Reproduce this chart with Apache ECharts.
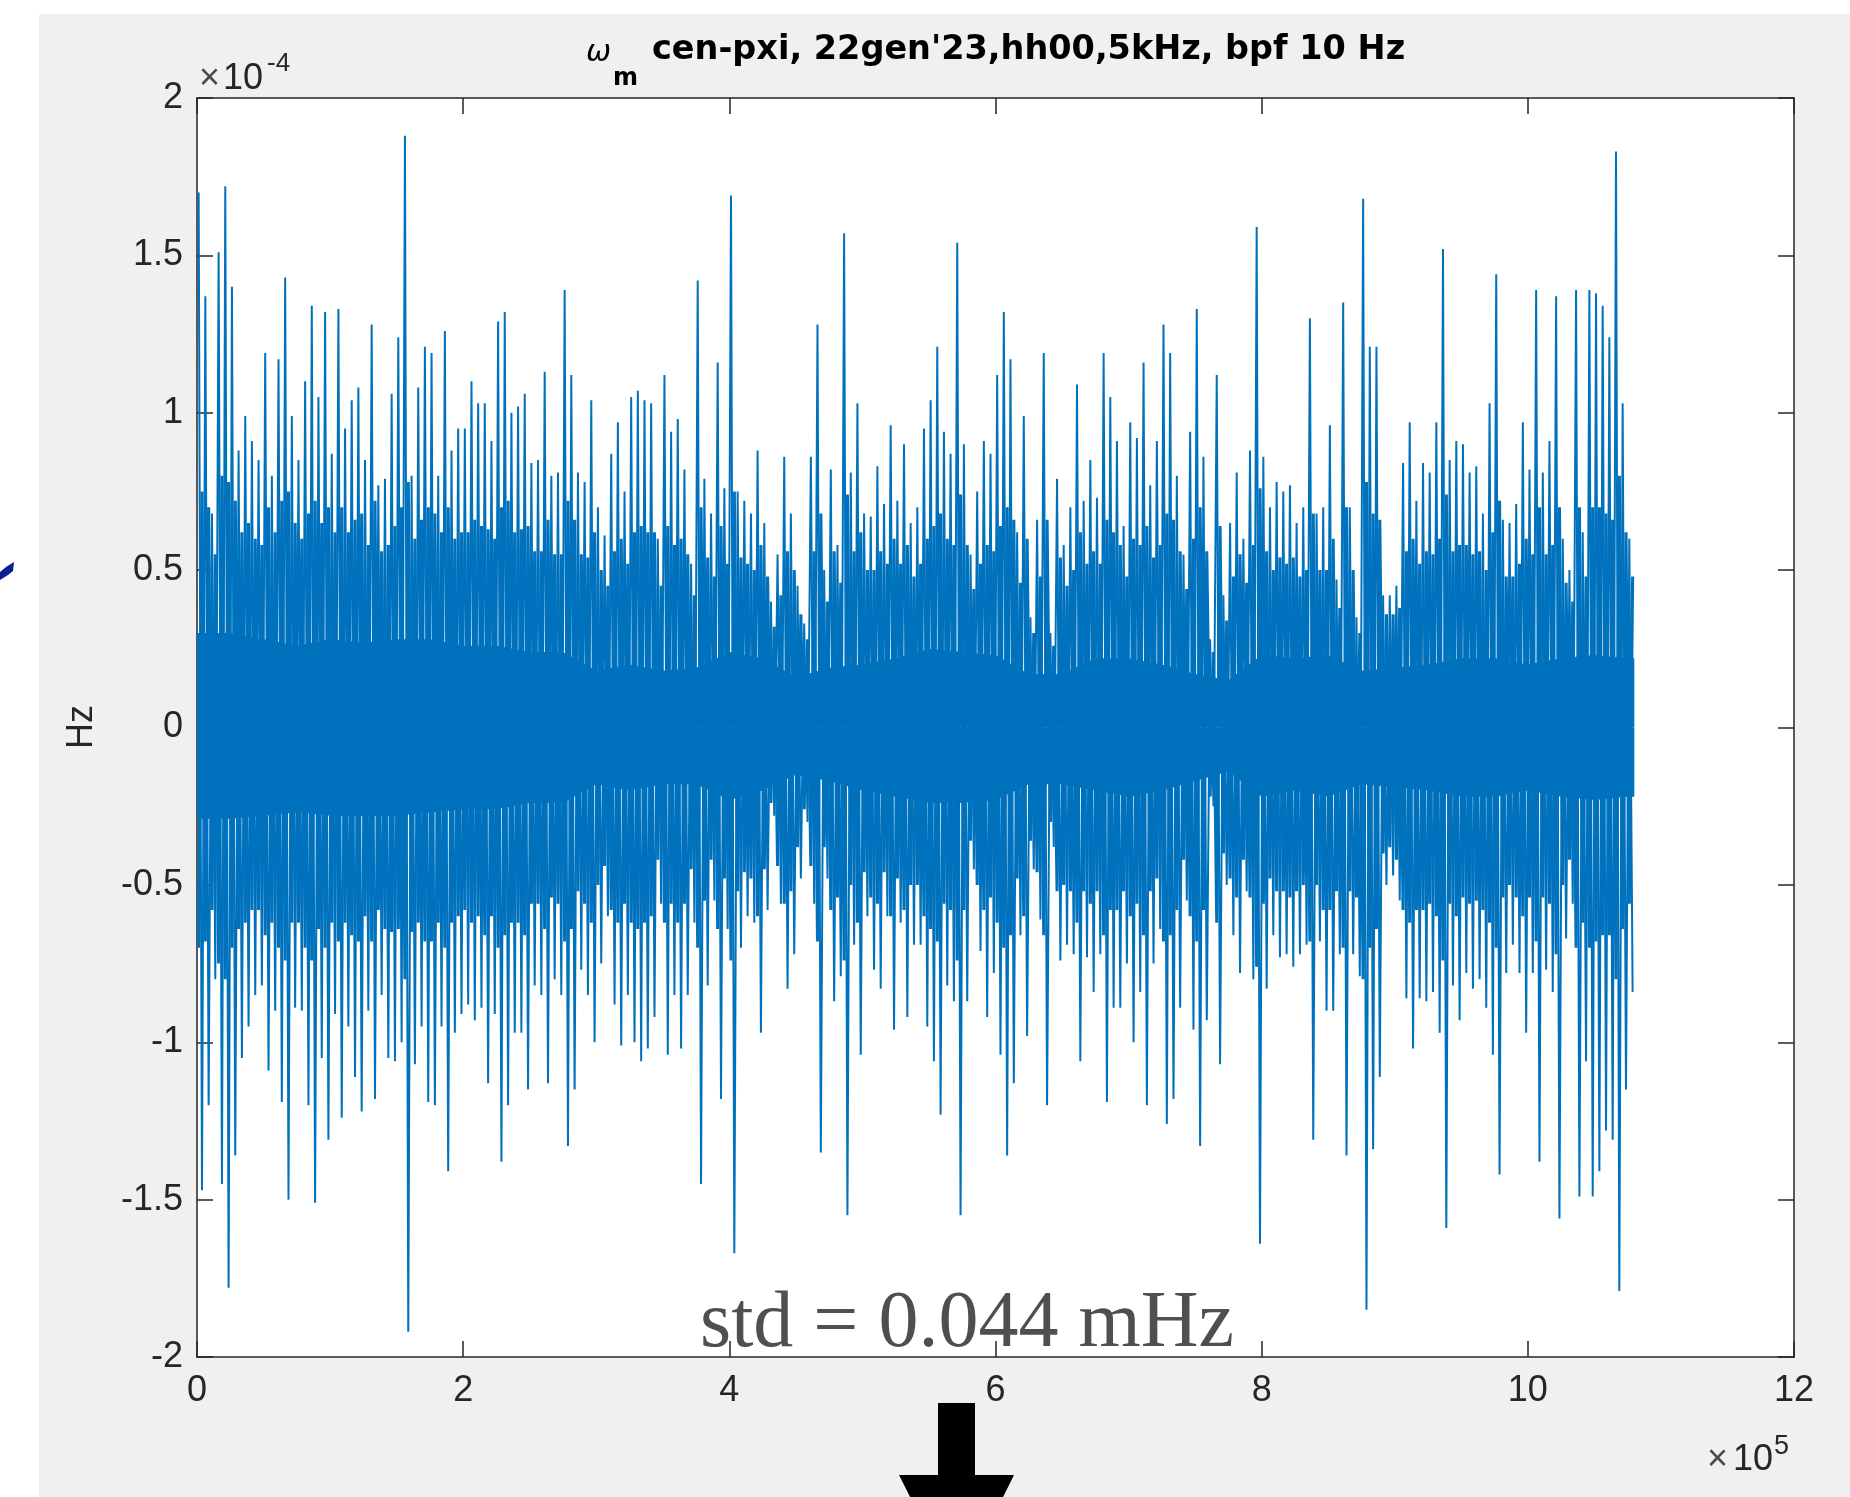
<!DOCTYPE html>
<html>
<head>
<meta charset="utf-8">
<script src="https://cdn.jsdelivr.net/npm/echarts@6/dist/echarts.min.js"></script>
<style>
html,body{margin:0;padding:0;background:#ffffff;}
#chart{width:1850px;height:1497px;}
</style>
</head>
<body>
<div id="chart"></div>
<script>
// ---------------- data (x in units of 1e5 samples, y in units of 1e-4 Hz) ----------------
const binWidth = 0.05;   // width of one envelope bin on the x axis (×10^5)

// per-bin maximum of the signal, bins 0..215
const upperPeaks = [
  1.70,1.37,0.68,1.51,1.72,1.40,0.88,0.99,0.91,0.85,1.19,0.80,1.17,1.43,0.99,0.85,1.10,1.34,1.05,1.32,
  0.87,1.33,0.95,1.04,1.08,0.85,1.28,0.77,0.79,1.06,1.24,1.88,0.80,1.08,1.21,1.19,
  0.80,1.26,0.88,0.95,0.95,1.10,1.03,1.03,0.91,1.29,1.32,1.00,1.02,1.06,0.84,0.85,1.13,0.80,0.81,1.39,
  1.12,0.81,0.78,1.04,0.70,0.61,0.87,0.97,0.75,1.05,1.07,1.04,1.03,0.60,1.12,0.94,0.98,
  0.82,0.52,1.42,0.79,0.68,1.16,0.76,1.69,0.75,0.72,0.68,0.88,0.65,0.40,0.55,0.86,0.68,0.45,0.33,0.86,
  1.28,0.50,0.82,0.58,1.57,0.81,1.03,0.68,0.67,0.83,0.71,0.96,0.72,0.90,0.65,0.70,
  0.95,1.04,1.21,0.94,0.87,1.54,0.90,0.55,0.75,0.91,0.87,1.12,1.32,1.17,0.62,0.99,0.35,0.66,1.19,0.30,
  0.79,0.58,0.70,1.09,0.72,0.85,0.73,1.19,1.05,0.91,0.64,0.97,0.92,1.16,0.77,0.91,
  1.28,1.19,0.80,0.55,0.94,1.33,0.86,0.28,1.12,0.42,0.65,0.81,0.60,0.88,1.59,0.86,0.70,0.78,0.75,0.77,
  0.65,0.70,1.30,0.68,0.70,0.96,0.47,1.35,0.70,0.35,1.68,1.21,1.21,0.42,0.42,0.45,
  0.84,0.97,0.72,0.84,0.81,0.97,1.52,0.85,0.91,0.90,0.81,0.83,0.68,1.03,1.44,0.66,0.65,0.71,0.97,0.82,
  1.39,0.81,0.91,1.37,0.60,0.50,1.39,0.62,1.39,1.38,1.34,1.24,1.83,1.03,0.60
];

// per-bin minimum of the signal, bins 0..215
const lowerPeaks = [
  -1.47,-1.20,-0.80,-1.45,-1.78,-1.36,-1.05,-0.95,-0.85,-0.82,-1.09,-0.90,-1.19,-1.50,-0.89,-0.90,-1.20,-1.51,-1.05,-1.31,
  -0.91,-1.24,-0.95,-1.11,-1.22,-0.90,-1.18,-0.85,-1.05,-1.06,-1.00,-1.92,-1.07,-0.95,-1.19,-1.20,
  -0.95,-1.41,-0.97,-0.91,-0.88,-0.93,-0.89,-1.13,-0.91,-1.38,-1.20,-0.97,-0.97,-1.15,-0.82,-0.85,-1.13,-0.80,-0.85,-1.33,
  -1.15,-0.77,-0.85,-1.00,-0.75,-0.60,-0.88,-1.01,-0.85,-1.00,-1.06,-1.02,-0.92,-0.56,-1.04,-0.85,-1.02,
  -0.85,-0.62,-1.45,-0.82,-0.55,-1.18,-0.64,-1.67,-0.70,-0.60,-0.62,-0.97,-0.58,-0.28,-0.56,-0.83,-0.72,-0.48,-0.30,-0.56,
  -1.35,-0.48,-0.87,-0.79,-1.55,-0.69,-1.04,-0.60,-0.77,-0.83,-0.60,-0.96,-0.62,-0.92,-0.69,-0.69,
  -0.95,-1.06,-1.23,-0.82,-0.87,-1.55,-0.87,-0.45,-0.71,-0.92,-0.78,-1.04,-1.36,-1.13,-0.66,-0.98,-0.45,-0.61,-1.20,-0.38,
  -0.74,-0.69,-0.72,-1.06,-0.73,-0.84,-0.72,-1.19,-0.89,-0.89,-0.75,-1.00,-0.84,-1.20,-0.75,-0.64,
  -1.26,-1.18,-0.89,-0.55,-0.96,-1.33,-0.93,-0.25,-1.07,-0.50,-0.66,-0.78,-0.52,-0.80,-1.64,-0.83,-0.66,-0.73,-0.72,-0.76,
  -0.72,-0.69,-1.31,-0.68,-0.90,-0.90,-0.72,-1.36,-0.72,-0.79,-1.85,-1.34,-1.11,-0.50,-0.47,-0.55,
  -0.86,-1.02,-0.86,-0.87,-0.84,-0.97,-1.59,-0.82,-0.93,-0.78,-0.83,-0.80,-0.89,-1.04,-1.42,-0.78,-0.69,-0.78,-0.97,-0.78,
  -1.38,-0.77,-0.84,-1.56,-0.67,-0.56,-1.49,-1.06,-1.49,-1.41,-1.28,-1.31,-1.79,-1.15,-0.84
];

// per-bin level of the dense "fuzzy" edge (secondary excursions), bins 0..215
const upperSecond = [
  0.75,0.70,0.55,0.80,0.78,0.72,0.62,0.65,0.60,0.58,0.70,0.62,0.72,0.75,0.65,0.60,0.68,0.72,0.65,0.70,
  0.62,0.70,0.62,0.66,0.68,0.58,0.72,0.56,0.58,0.64,0.70,0.78,0.60,0.66,0.70,0.68,
  0.62,0.70,0.60,0.62,0.62,0.66,0.64,0.63,0.60,0.70,0.72,0.62,0.63,0.64,0.56,0.56,0.66,0.55,0.55,0.72,
  0.66,0.55,0.54,0.62,0.50,0.45,0.56,0.60,0.52,0.62,0.64,0.62,0.62,0.45,0.64,0.58,0.60,
  0.55,0.42,0.70,0.54,0.48,0.64,0.52,0.75,0.54,0.52,0.50,0.58,0.48,0.32,0.42,0.56,0.50,0.36,0.28,0.56,
  0.68,0.40,0.56,0.46,0.74,0.56,0.62,0.50,0.50,0.56,0.52,0.60,0.52,0.58,0.48,0.52,
  0.60,0.64,0.68,0.60,0.58,0.74,0.58,0.44,0.52,0.58,0.56,0.64,0.70,0.66,0.46,0.60,0.30,0.48,0.66,0.26,
  0.54,0.45,0.50,0.62,0.52,0.56,0.52,0.66,0.62,0.58,0.48,0.60,0.58,0.64,0.54,0.58,
  0.68,0.66,0.56,0.44,0.60,0.70,0.56,0.24,0.64,0.34,0.48,0.55,0.46,0.58,0.76,0.56,0.50,0.54,0.52,0.54,
  0.48,0.50,0.68,0.50,0.50,0.60,0.38,0.70,0.50,0.30,0.78,0.68,0.66,0.36,0.36,0.38,
  0.56,0.60,0.52,0.56,0.55,0.60,0.74,0.56,0.58,0.58,0.55,0.56,0.50,0.62,0.72,0.48,0.48,0.52,0.60,0.55,
  0.70,0.55,0.58,0.70,0.46,0.40,0.70,0.48,0.70,0.70,0.68,0.66,0.80,0.62,0.48
];
const lowerSecond = [
  -0.70,-0.68,-0.58,-0.75,-0.80,-0.70,-0.64,-0.62,-0.58,-0.58,-0.66,-0.62,-0.70,-0.74,-0.62,-0.62,-0.70,-0.74,-0.64,-0.70,
  -0.62,-0.68,-0.62,-0.66,-0.68,-0.60,-0.68,-0.58,-0.64,-0.65,-0.64,-0.80,-0.65,-0.62,-0.68,-0.68,
  -0.62,-0.70,-0.62,-0.60,-0.58,-0.62,-0.60,-0.66,-0.60,-0.70,-0.66,-0.62,-0.62,-0.66,-0.56,-0.56,-0.64,-0.54,-0.56,-0.68,
  -0.64,-0.52,-0.56,-0.62,-0.50,-0.44,-0.58,-0.62,-0.56,-0.62,-0.64,-0.62,-0.60,-0.42,-0.62,-0.56,-0.62,
  -0.56,-0.45,-0.70,-0.55,-0.42,-0.64,-0.48,-0.74,-0.52,-0.46,-0.48,-0.60,-0.45,-0.24,-0.44,-0.56,-0.52,-0.38,-0.26,-0.44,
  -0.68,-0.38,-0.58,-0.54,-0.74,-0.50,-0.62,-0.46,-0.54,-0.56,-0.46,-0.60,-0.48,-0.58,-0.50,-0.50,
  -0.60,-0.64,-0.68,-0.56,-0.58,-0.74,-0.58,-0.36,-0.50,-0.58,-0.54,-0.62,-0.70,-0.66,-0.48,-0.60,-0.36,-0.46,-0.66,-0.30,
  -0.52,-0.50,-0.52,-0.62,-0.52,-0.56,-0.52,-0.66,-0.58,-0.58,-0.52,-0.60,-0.56,-0.66,-0.52,-0.48,
  -0.68,-0.66,-0.58,-0.42,-0.60,-0.68,-0.58,-0.22,-0.62,-0.40,-0.48,-0.54,-0.42,-0.54,-0.76,-0.56,-0.48,-0.52,-0.52,-0.54,
  -0.52,-0.50,-0.68,-0.50,-0.58,-0.58,-0.52,-0.70,-0.52,-0.54,-0.80,-0.70,-0.64,-0.40,-0.38,-0.42,
  -0.58,-0.62,-0.58,-0.58,-0.56,-0.60,-0.74,-0.56,-0.60,-0.54,-0.56,-0.55,-0.58,-0.62,-0.70,-0.54,-0.50,-0.54,-0.60,-0.54,
  -0.68,-0.54,-0.56,-0.72,-0.50,-0.42,-0.70,-0.62,-0.70,-0.68,-0.66,-0.66,-0.80,-0.64,-0.56
];

// solid core of the trace
const coreX = [0,0.25,0.5,0.75,1,1.25,1.5,1.75,2,2.25,2.5,2.75,3,3.25,3.5,3.75,4,4.25,4.5,4.75,
  5,5.25,5.5,5.75,6,6.25,6.5,6.75,7,7.25,7.5,7.75,8,8.25,8.5,8.75,9,9.25,9.5,9.75,10,10.25,10.5,10.75,10.8];
const coreUpper = [0.30,0.30,0.28,0.26,0.28,0.27,0.28,0.28,0.26,0.26,0.24,0.24,0.18,0.20,0.18,0.19,0.24,0.22,0.16,0.19,
  0.20,0.22,0.25,0.24,0.23,0.17,0.17,0.22,0.22,0.20,0.17,0.15,0.23,0.22,0.23,0.18,0.19,0.20,0.22,0.22,
  0.20,0.22,0.23,0.22,0.22];
const coreLower = [-0.29,-0.29,-0.28,-0.27,-0.28,-0.28,-0.28,-0.27,-0.26,-0.26,-0.24,-0.24,-0.18,-0.20,-0.18,-0.18,-0.23,-0.20,-0.15,-0.17,
  -0.20,-0.22,-0.24,-0.24,-0.23,-0.18,-0.18,-0.20,-0.22,-0.20,-0.17,-0.14,-0.22,-0.20,-0.22,-0.18,-0.19,-0.20,-0.22,-0.22,
  -0.20,-0.22,-0.23,-0.22,-0.22];

const xTicks = [0,2,4,6,8,10,12];
const yTicks = [-2,-1.5,-1,-0.5,0,0.5,1,1.5,2];

const titleMain = "cen-pxi, 22gen'23,hh00,5kHz, bpf 10 Hz";
const stdText = "std = 0.044 mHz";

// ---------------- build series data ----------------
// primary excursions: max at 1/4 of each bin, min at 3/4
const signal = [];
for (let k = 0; k < upperPeaks.length; k++) {
  signal.push([k * binWidth + binWidth * 0.25, upperPeaks[k]]);
  signal.push([k * binWidth + binWidth * 0.75, lowerPeaks[k]]);
}
// secondary excursions, in opposite phase so they fill the gaps
const signal2 = [];
for (let k = 0; k < upperSecond.length; k++) {
  signal2.push([k * binWidth + binWidth * 0.25, lowerSecond[k]]);
  signal2.push([k * binWidth + binWidth * 0.75, upperSecond[k]]);
}
const coreUp = coreX.map((x, i) => [x, coreUpper[i]]);
const coreDn = coreX.map((x, i) => [x, coreLower[i]]);

const BLUE = '#0072BD';
const AX = '#262626';
const SANS = '"Liberation Sans", Arial, Helvetica, sans-serif';

function txt(x, y, text, font, fill, align, extra) {
  return Object.assign({
    type: 'text', x: x, y: y, z: 100, silent: true,
    style: { text: text, font: font, fill: fill, align: align || 'left', verticalAlign: 'middle',
             textAlign: align || 'left', textVerticalAlign: 'middle' }
  }, extra || {});
}

const chart = echarts.init(document.getElementById('chart'), null, { renderer: 'canvas' });

const axisCommon = {
  type: 'value',
  min: xTicks[0], max: xTicks[xTicks.length - 1], interval: 2,
  axisLine: { show: true, onZero: false, lineStyle: { color: AX, width: 1.5 } },
  axisTick: { show: true, inside: true, length: 16, lineStyle: { color: AX, width: 1.5 } },
  splitLine: { show: false }
};

chart.setOption({
  animation: false,
  backgroundColor: 'transparent',
  grid: { left: 197, top: 98, width: 1597, height: 1259, show: false, containLabel: false },
  xAxis: [
    Object.assign({}, axisCommon, {
      position: 'bottom',
      axisLabel: { show: true, margin: 16, fontSize: 36, fontFamily: SANS, color: AX,
        formatter: v => String(v) }
    }),
    Object.assign({}, axisCommon, { position: 'top', axisLabel: { show: false } })
  ],
  yAxis: [
    {
      type: 'value', min: yTicks[0], max: yTicks[yTicks.length - 1], interval: 0.5, position: 'left',
      axisLine: { show: true, onZero: false, lineStyle: { color: AX, width: 1.5 } },
      axisTick: { show: true, inside: true, length: 16, lineStyle: { color: AX, width: 1.5 } },
      axisLabel: { show: true, margin: 14, fontSize: 36, fontFamily: SANS, color: AX,
        formatter: v => String(v) },
      splitLine: { show: false }
    },
    {
      type: 'value', min: yTicks[0], max: yTicks[yTicks.length - 1], interval: 0.5, position: 'right',
      axisLine: { show: true, onZero: false, lineStyle: { color: AX, width: 1.5 } },
      axisTick: { show: true, inside: true, length: 16, lineStyle: { color: AX, width: 1.5 } },
      axisLabel: { show: false },
      splitLine: { show: false }
    }
  ],
  series: [
    {
      type: 'line', name: 'coreUp', data: coreUp, symbol: 'none', silent: true, z: 2,
      lineStyle: { width: 0, color: BLUE }, areaStyle: { color: BLUE, opacity: 1, origin: 'auto' }
    },
    {
      type: 'line', name: 'coreDn', data: coreDn, symbol: 'none', silent: true, z: 2,
      lineStyle: { width: 0, color: BLUE }, areaStyle: { color: BLUE, opacity: 1, origin: 'auto' }
    },
    {
      type: 'line', name: 'signal2', data: signal2, symbol: 'none', silent: true, z: 3,
      sampling: null,
      lineStyle: { width: 3.1, color: BLUE, join: 'miter', miterLimit: 1 }
    },
    {
      type: 'line', name: 'signal', data: signal, symbol: 'none', silent: true, z: 4,
      sampling: null,
      lineStyle: { width: 2.0, color: BLUE, join: 'miter', miterLimit: 1 }
    }
  ],
  graphic: { elements: [
    { type: 'rect', z: -100, silent: true, shape: { x: 39, y: 14, width: 1811, height: 1483 }, style: { fill: '#f0f0f0' } },
    { type: 'rect', z: -99, silent: true, shape: { x: 197, y: 98, width: 1597, height: 1259 }, style: { fill: '#ffffff' } },
    // fragment of a dark-blue glyph at the left edge
    { type: 'polygon', z: 100, silent: true,
      shape: { points: [[0,572],[6,567],[14,562],[13,571],[8,575],[0,580]] }, style: { fill: '#0b1f8f' } },
    // black down arrow below the axes
    { type: 'polygon', z: 100, silent: true,
      shape: { points: [[938,1403],[975,1403],[975,1475],[1014,1475],[957,1590],[899,1475],[938,1475]] },
      style: { fill: '#000000' } },
    // title
    txt(586, 53, 'ω', 'italic 30px "DejaVu Sans", sans-serif', '#000'),
    txt(613, 79, 'm', 'bold 24px "DejaVu Sans", sans-serif', '#000'),
    txt(652, 50.5, titleMain, 'bold 33.5px "DejaVu Sans", sans-serif', '#000'),
    // y exponent
    txt(199, 79, '×', '36px ' + SANS, '#4a4a4a'),
    txt(223, 79, '10', '36px ' + SANS, AX),
    txt(267, 63.5, '-4', '26px ' + SANS, AX),
    // x exponent
    txt(1707, 1460.5, '×', '36px ' + SANS, '#4a4a4a'),
    txt(1733, 1460.5, '10', '36px ' + SANS, AX),
    txt(1774, 1447, '5', '27px ' + SANS, AX),
    // y axis name
    txt(82, 727, 'Hz', '36px ' + SANS, AX, 'center', { rotation: Math.PI / 2 }),
    // annotation
    txt(700, 1325, stdText, '80px "Liberation Serif", "Times New Roman", serif', '#4f4f4f')
  ] }
});
</script>
</body>
</html>
